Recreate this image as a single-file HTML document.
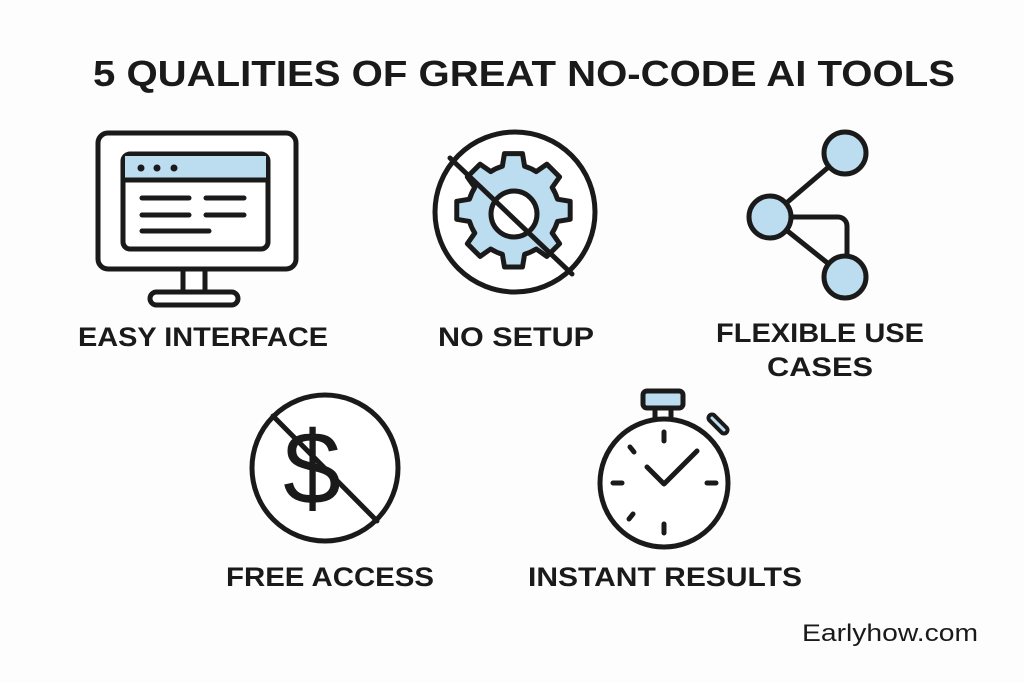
<!DOCTYPE html>
<html><head><meta charset="utf-8"><style>
html,body{margin:0;padding:0;background:#fdfdfd;}
svg{display:block}
text{font-family:"Liberation Sans",sans-serif;font-weight:bold;fill:#1a1a1a}
</style></head><body>
<svg width="1024" height="683" viewBox="0 0 1024 683" xmlns="http://www.w3.org/2000/svg">
<rect width="1024" height="683" fill="#fdfdfd"/>
<text x="93" y="86" font-size="36" textLength="862" lengthAdjust="spacingAndGlyphs">5 QUALITIES OF GREAT NO-CODE AI TOOLS</text>

<g stroke="#1a1a1a" stroke-width="5" fill="none" stroke-linecap="round" stroke-linejoin="round">
<!-- monitor -->
<rect x="98" y="133" width="198" height="136" rx="10" fill="#fff"/>
<rect x="123" y="154" width="145" height="95" rx="7" fill="#fff"/>
<path d="M125 156 h141 v23 h-141z" fill="#bcdcef" stroke="none"/>
<line x1="123" y1="180" x2="268" y2="180"/>
<line x1="142" y1="198" x2="189" y2="198"/><line x1="206" y1="198" x2="244" y2="198"/>
<line x1="142" y1="215" x2="189" y2="215"/><line x1="206" y1="215" x2="244" y2="215"/>
<line x1="142" y1="231" x2="209" y2="231"/>
<rect x="183" y="269" width="22" height="23" fill="#fff"/>
<rect x="150" y="292" width="88" height="13" rx="6.5" fill="#fff"/>

<!-- no setup -->
<circle cx="515" cy="212" r="80" fill="#fff"/>
<g transform="translate(514 214) scale(1.06) translate(-514 -214)">
<path d="M505 157 h17 l2 12 a46 46 0 0 1 11 5 l10 -7 12 12 -7 10 a46 46 0 0 1 5 11 l12 2 v17 l-12 2 a46 46 0 0 1 -5 11 l7 10 -12 12 -10 -7 a46 46 0 0 1 -11 5 l-2 12 h-17 l-2 -12 a46 46 0 0 1 -11 -5 l-10 7 -12 -12 7 -10 a46 46 0 0 1 -5 -11 l-12 -2 v-17 l12 -2 a46 46 0 0 1 5 -11 l-7 -10 12 -12 10 7 a46 46 0 0 1 11 -5z" fill="#bcdcef" stroke-width="4.7"/>
</g>
<circle cx="514" cy="214" r="23" fill="#fff"/>
<line x1="450" y1="158" x2="572" y2="274"/>

<!-- network -->
<line x1="770" y1="217" x2="845" y2="153"/>
<line x1="770" y1="217" x2="845" y2="277"/>
<path d="M770 217 h68 a9 9 0 0 1 9 9 v40"/>
<circle cx="845" cy="153" r="21" fill="#bcdcef"/>
<circle cx="770" cy="217" r="21" fill="#bcdcef"/>
<circle cx="845" cy="277" r="21" fill="#bcdcef"/>

<!-- free -->
<circle cx="325" cy="468" r="73" fill="#fff"/>
<line x1="273" y1="416" x2="377" y2="521"/>

<!-- stopwatch -->
<rect x="643" y="391" width="40" height="17" rx="4" fill="#bcdcef"/>
<line x1="655" y1="408" x2="655" y2="420"/><line x1="671" y1="408" x2="671" y2="420"/>
<line x1="712" y1="418" x2="724" y2="430" stroke-width="11"/>
<line x1="712" y1="418" x2="724" y2="430" stroke-width="3" stroke="#bcdcef"/>
<circle cx="664" cy="483" r="64" fill="#fff"/>
<line x1="664" y1="432" x2="664" y2="441"/><line x1="664" y1="524" x2="664" y2="533"/>
<line x1="613" y1="483" x2="622" y2="483"/><line x1="707" y1="483" x2="716" y2="483"/>
<line x1="630" y1="447" x2="634" y2="452"/><line x1="629" y1="519" x2="633" y2="514"/>
<polyline points="647,467 664,484 697,451"/>
</g>
<g fill="#1a1a1a"><circle cx="141" cy="168" r="3.5"/><circle cx="157" cy="168" r="3.5"/><circle cx="174" cy="168" r="3.5"/></g>
<text x="312" y="504" font-size="104" text-anchor="middle" style="font-weight:normal" fill="#1a1a1a">$</text>

<text x="203" y="346" font-size="27" text-anchor="middle" textLength="250" lengthAdjust="spacingAndGlyphs">EASY INTERFACE</text>
<text x="516" y="346" font-size="27" text-anchor="middle" textLength="156" lengthAdjust="spacingAndGlyphs">NO SETUP</text>
<text x="820" y="342" font-size="27" text-anchor="middle" textLength="208" lengthAdjust="spacingAndGlyphs">FLEXIBLE USE</text>
<text x="820" y="376" font-size="27" text-anchor="middle" textLength="106" lengthAdjust="spacingAndGlyphs">CASES</text>
<text x="330" y="586" font-size="27" text-anchor="middle" textLength="208" lengthAdjust="spacingAndGlyphs">FREE ACCESS</text>
<text x="665" y="586" font-size="27" text-anchor="middle" textLength="274" lengthAdjust="spacingAndGlyphs">INSTANT RESULTS</text>
<text x="978" y="641" font-size="24" text-anchor="end" style="font-weight:normal" textLength="176" lengthAdjust="spacingAndGlyphs">Earlyhow.com</text>
</svg>
</body></html>
